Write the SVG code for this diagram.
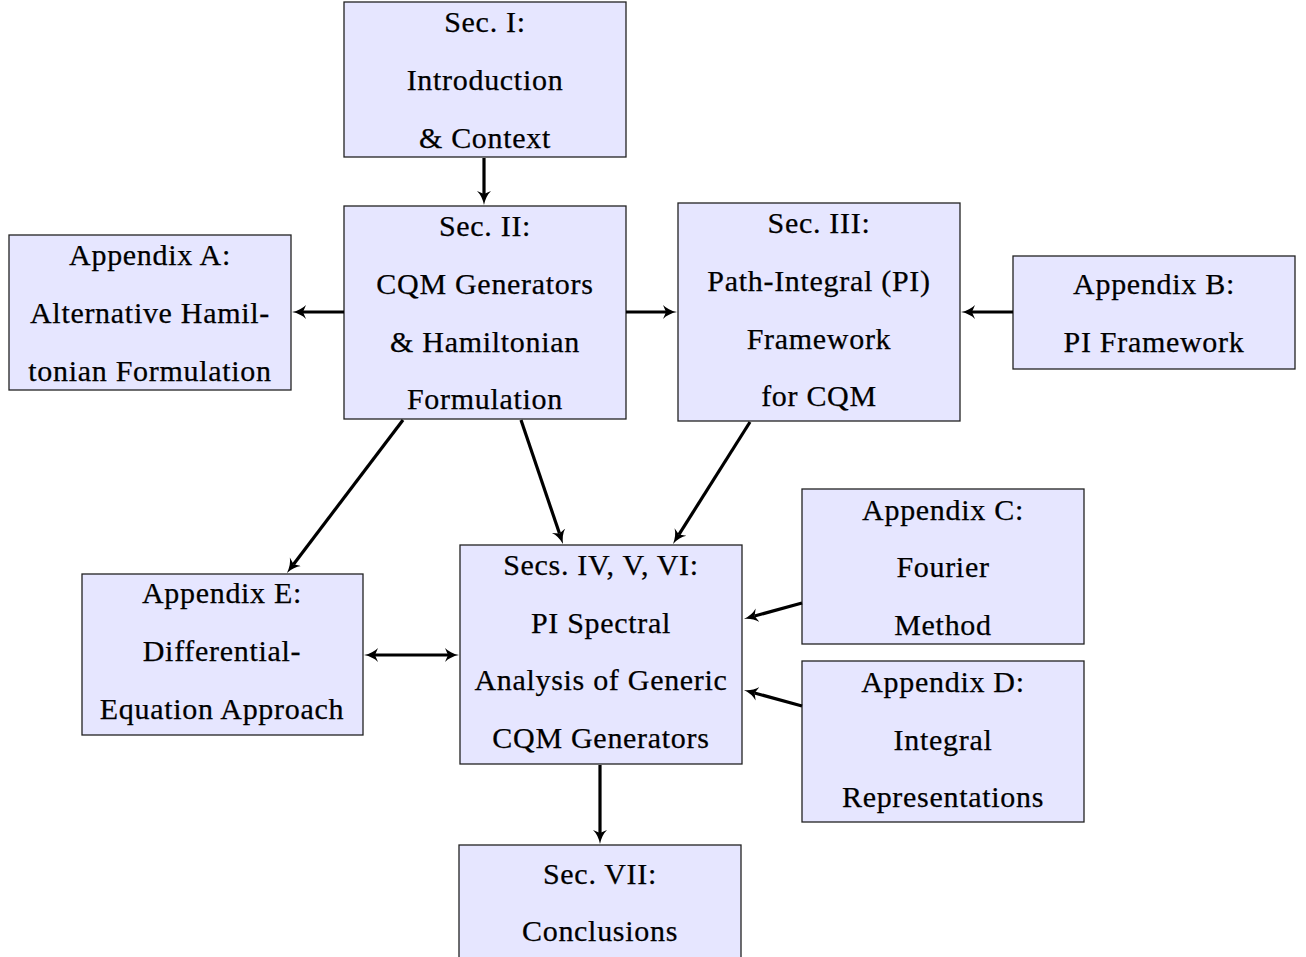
<svg xmlns="http://www.w3.org/2000/svg" width="1306" height="957" viewBox="0 0 1306 957">
<style>
.box{fill:#e6e6ff;stroke:#222;stroke-width:1.3}
text{font-family:"Liberation Serif","Times New Roman",serif;font-size:30px;fill:#000;stroke:#000;stroke-width:0.25;text-anchor:middle;letter-spacing:0.7px}
.c{fill:none;stroke:#000;stroke-width:3.2}
</style>
<defs>
<marker id="ah" viewBox="0 -8 15 16" refX="3" refY="0" markerWidth="15" markerHeight="16" orient="auto-start-reverse" markerUnits="userSpaceOnUse">
<path d="M0,-7 Q5,-1.8 14,0 Q5,1.8 0,7 L3,0 z" fill="#000"/>
</marker>
</defs>
<rect width="1306" height="957" fill="#fff"/>
<g id="sec1"><rect class="box" x="344" y="2" width="282" height="155"/>
<text x="485" y="32">Sec. I:</text><text x="485" y="90">Introduction</text><text x="485" y="148">&amp; Context</text></g>
<g id="sec2"><rect class="box" x="344" y="206" width="282" height="213"/>
<text x="485" y="236">Sec. II:</text><text x="485" y="294">CQM Generators</text><text x="485" y="352">&amp; Hamiltonian</text><text x="485" y="409">Formulation</text></g>
<g id="sec3"><rect class="box" x="678" y="203" width="282" height="218"/>
<text x="819" y="233">Sec. III:</text><text x="819" y="291">Path-Integral (PI)</text><text x="819" y="349">Framework</text><text x="819" y="406">for CQM</text></g>
<g id="appA"><rect class="box" x="9" y="235" width="282" height="155"/>
<text x="150" y="265">Appendix A:</text><text x="150" y="323">Alternative Hamil-</text><text x="150" y="381">tonian Formulation</text></g>
<g id="appB"><rect class="box" x="1013" y="256" width="282" height="113"/>
<text x="1154" y="294">Appendix B:</text><text x="1154" y="352">PI Framework</text></g>
<g id="appC"><rect class="box" x="802" y="489" width="282" height="155"/>
<text x="943" y="520">Appendix C:</text><text x="943" y="577">Fourier</text><text x="943" y="635">Method</text></g>
<g id="appD"><rect class="box" x="802" y="661" width="282" height="161"/>
<text x="943" y="692">Appendix D:</text><text x="943" y="750">Integral</text><text x="943" y="807">Representations</text></g>
<g id="appE"><rect class="box" x="82" y="574" width="281" height="161"/>
<text x="222" y="603">Appendix E:</text><text x="222" y="661">Differential-</text><text x="222" y="719">Equation Approach</text></g>
<g id="sec456"><rect class="box" x="460" y="545" width="282" height="219"/>
<text x="601" y="575">Secs. IV, V, VI:</text><text x="601" y="633">PI Spectral</text><text x="601" y="690">Analysis of Generic</text><text x="601" y="748">CQM Generators</text></g>
<g id="sec7"><rect class="box" x="459" y="845" width="282" height="160"/>
<text x="600" y="884">Sec. VII:</text><text x="600" y="941">Conclusions</text></g>
<g id="connectors">
<path class="c" d="M484,158 L484,194" marker-end="url(#ah)"/>
<path class="c" d="M344,312 L303,312" marker-end="url(#ah)"/>
<path class="c" d="M626,312 L666,312" marker-end="url(#ah)"/>
<path class="c" d="M1013,312 L972,312" marker-end="url(#ah)"/>
<path class="c" d="M403,420 L293.6,564.2" marker-end="url(#ah)"/>
<path class="c" d="M521,420 L559.5,533.6" marker-end="url(#ah)"/>
<path class="c" d="M750,422 L678.9,534.6" marker-end="url(#ah)"/>
<path class="c" d="M802,603 L754.6,616.0" marker-end="url(#ah)"/>
<path class="c" d="M802,706 L754.6,693.0" marker-end="url(#ah)"/>
<path class="c" d="M375,655 L448,655" marker-start="url(#ah)" marker-end="url(#ah)"/>
<path class="c" d="M600,765 L600,833" marker-end="url(#ah)"/>
</g>
</svg>
